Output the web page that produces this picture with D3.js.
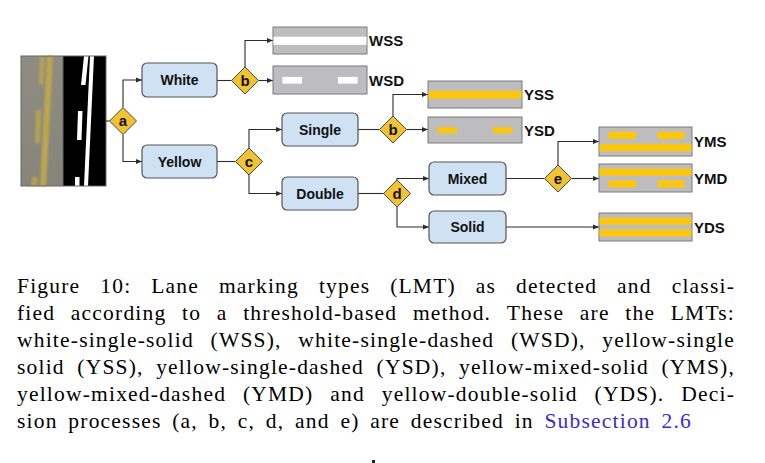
<!DOCTYPE html>
<html>
<head>
<meta charset="utf-8">
<script src="https://cdn.jsdelivr.net/npm/d3@7"></script>
<style>
  body { margin: 0; background: #fff; }
  svg { display: block; }
</style>
</head>
<body>
<script>
// ---- diagram content ----
var colourNodes = ['White', 'Yellow'];
var lineNodes = ['Single', 'Double'];
var doubleNodes = ['Mixed', 'Solid'];
var decisionKeys = ['a', 'b', 'c', 'b', 'd', 'e'];
var lmtCodes = ['WSS', 'WSD', 'YSS', 'YSD', 'YMS', 'YMD', 'YDS'];
var lmtPaint = ['white', 'white', 'yellow', 'yellow', 'yellow', 'yellow', 'yellow'];
// marking rows of each icon, top to bottom
var lmtRows = [['solid'], ['dashed'], ['solid'], ['dashed'], ['dashed', 'solid'], ['solid', 'dashed'], ['solid', 'solid']];

var captionLines = [
  'Figure 10:  Lane marking types (LMT) as detected and classi-',
  'fied according to a threshold-based method.  These are the LMTs:',
  'white-single-solid (WSS), white-single-dashed (WSD), yellow-single',
  'solid (YSS), yellow-single-dashed (YSD), yellow-mixed-solid (YMS),',
  'yellow-mixed-dashed (YMD) and yellow-double-solid (YDS). Deci-',
  'sion processes (a, b, c, d, and e) are described in Subsection 2.6'
];
var linkWords = ['Subsection', '2.6'];

// ---- layout (pixels) ----
var W = 765, H = 463;
var boxPos = {
  White: [142, 63, 75, 34], Yellow: [142, 145, 75, 33],
  Single: [282, 113, 76, 33], Double: [282, 177, 76, 33],
  Mixed: [429, 162, 77, 33], Solid: [429, 211, 77, 32]
};
var diamondPos = [[123, 121], [245, 80.5], [249, 161.5], [393, 129.5], [397, 193.5], [558, 178.5]];
var iconPos = [[273, 27, 94, 27], [273, 66, 94, 28], [428, 81, 94, 27], [428, 117, 94, 26],
               [599, 127, 93, 29], [599, 164, 93, 28], [599, 213, 93, 28]];
var dh = 13.5;

var blue = '#cfe2f3', gold = '#f1c232', line = '#2b2b2b';
var paint = { white: '#ffffff', yellow: '#fbc60f' };

var svg = d3.select('body').append('svg').attr('width', W).attr('height', H);
var defs = svg.append('defs');

defs.append('marker')
  .attr('id', 'arr').attr('viewBox', '0 0 10 10').attr('refX', 10).attr('refY', 5)
  .attr('markerWidth', 6).attr('markerHeight', 6).attr('markerUnits', 'userSpaceOnUse')
  .attr('orient', 'auto')
  .append('path').attr('d', 'M0,1 L10,5 L0,9 z').attr('fill', line);
defs.append('filter').attr('id', 'soft').append('feGaussianBlur').attr('stdDeviation', 0.9);

// ---- photo (left: camera crop, right: thresholded) ----
var photo = svg.append('g');
var grad = defs.append('linearGradient').attr('id', 'road')
  .attr('x1', 0).attr('x2', 0).attr('y1', 0).attr('y2', 1);
grad.append('stop').attr('offset', 0).attr('stop-color', '#8f8d82');
grad.append('stop').attr('offset', 1).attr('stop-color', '#86857a');
photo.append('rect').attr('x', 21).attr('y', 56).attr('width', 42).attr('height', 130).attr('fill', 'url(#road)');
photo.append('rect').attr('x', 63).attr('y', 56).attr('width', 43).attr('height', 130).attr('fill', '#000');

// stripes as [x top, x bottom, y top, y bottom, width]
var camStripes = [[47, 40, 56, 186, 6], [40, 39, 57, 84, 4.5], [36, 35, 110, 143, 5], [32, 31, 177, 186, 6]];
var binStripes = [[90, 84, 56, 186, 4], [84, 81, 56, 85, 4.5], [78, 77, 111, 140, 4.5], [75, 75, 177, 186, 4.5]];
function stripe(g, d, fill, op, filt) {
  g.append('polygon')
    .attr('points', [[d[0], d[2]], [d[0] + d[4], d[2]], [d[1] + d[4], d[3]], [d[1], d[3]]].join(' '))
    .attr('fill', fill).attr('opacity', op).attr('filter', filt);
}
var cam = photo.append('g');
camStripes.forEach(function(d, i) { stripe(cam, d, '#c0a84c', i === 0 ? 0.95 : 0.8, 'url(#soft)'); });
binStripes.forEach(function(d) { stripe(photo, d, '#fff', 1, null); });
photo.append('rect').attr('x', 21).attr('y', 56).attr('width', 85).attr('height', 130)
  .attr('fill', 'none').attr('stroke', '#666').attr('stroke-width', 1);
photo.append('line').attr('x1', 63).attr('x2', 63).attr('y1', 56).attr('y2', 186)
  .attr('stroke', '#666').attr('stroke-width', 1);

// ---- connectors ----
var links = [
  ['M106,121 H109.5', false],
  ['M123,107.5 V80 H142', true],
  ['M123,134.5 V161.5 H142', true],
  ['M217,80.5 H231.5', false],
  ['M245,67 V40.5 H273', true],
  ['M258.5,80.5 H273', true],
  ['M217,161.5 H235.5', false],
  ['M249,148 V129.5 H282', true],
  ['M249,175 V193.5 H282', true],
  ['M358,129.5 H379.5', false],
  ['M393,116 V94.5 H428', true],
  ['M406.5,129.5 H428', true],
  ['M358,193.5 H383.5', false],
  ['M397,180 V178.5 H429', true],
  ['M397,207 V227 H429', true],
  ['M506,178.5 H544.5', false],
  ['M558,165 V141.5 H599', true],
  ['M571.5,178.5 H599', true],
  ['M506,227 H599', true]
];
svg.append('g').selectAll('path').data(links).enter().append('path')
  .attr('d', function(d) { return d[0]; })
  .attr('fill', 'none').attr('stroke', line).attr('stroke-width', 1.1)
  .attr('marker-end', function(d) { return d[1] ? 'url(#arr)' : null; });

// ---- rounded boxes ----
var boxNames = colourNodes.concat(lineNodes, doubleNodes);
var boxes = svg.append('g').selectAll('g').data(boxNames).enter().append('g');
boxes.append('rect')
  .attr('x', function(d) { return boxPos[d][0]; })
  .attr('y', function(d) { return boxPos[d][1]; })
  .attr('width', function(d) { return boxPos[d][2]; })
  .attr('height', function(d) { return boxPos[d][3]; })
  .attr('rx', 5).attr('fill', blue).attr('stroke', '#555').attr('stroke-width', 1.2);
boxes.append('text')
  .attr('x', function(d) { return boxPos[d][0] + boxPos[d][2] / 2; })
  .attr('y', function(d) { return boxPos[d][1] + boxPos[d][3] / 2 + 5; })
  .attr('text-anchor', 'middle')
  .style('font', 'bold 14px "Liberation Sans", Arial, sans-serif').attr('fill', '#111')
  .text(function(d) { return d; });

// ---- decision diamonds ----
var dia = svg.append('g').selectAll('g').data(decisionKeys).enter().append('g')
  .attr('transform', function(d, i) { return 'translate(' + diamondPos[i] + ')'; });
dia.append('polygon')
  .attr('points', [[0, -dh], [dh, 0], [0, dh], [-dh, 0]].join(' '))
  .attr('fill', gold).attr('stroke', '#4a4a4a').attr('stroke-width', 1);
dia.append('text').attr('y', 5).attr('text-anchor', 'middle')
  .style('font', 'bold 15px "Liberation Sans", Arial, sans-serif').attr('fill', '#111')
  .text(function(d) { return d; });

// ---- LMT icons ----
var icons = svg.append('g').selectAll('g').data(lmtCodes).enter().append('g');
icons.each(function(code, i) {
  var p = iconPos[i], g = d3.select(this);
  var sx = d3.scaleLinear().domain([0, 1]).range([p[0], p[0] + p[2]]);
  var sy = d3.scaleLinear().domain([0, 1]).range([p[1], p[1] + p[3]]);
  g.append('rect').attr('x', p[0]).attr('y', p[1]).attr('width', p[2]).attr('height', p[3])
    .attr('fill', '#bdbdbf').attr('stroke', '#7a7a7a').attr('stroke-width', 1);
  var rows = lmtRows[i], col = paint[lmtPaint[i]];
  rows.forEach(function(kind, r) {
    var y0, y1;
    if (rows.length === 1) { y0 = kind === 'solid' ? 0.36 : 0.39; y1 = kind === 'solid' ? 0.66 : 0.63; }
    else { y0 = r === 0 ? 0.16 : 0.58; y1 = r === 0 ? 0.42 : 0.84; }
    var spans = kind === 'solid' ? [[0, 1]]
      : rows.length === 1 ? [[0.1, 0.31], [0.69, 0.9]] : [[0.1, 0.4], [0.63, 0.92]];
    spans.forEach(function(s) {
      g.append('rect').attr('x', sx(s[0]) + (kind === 'solid' ? 0.5 : 0)).attr('y', sy(y0))
        .attr('width', sx(s[1]) - sx(s[0]) - (kind === 'solid' ? 1 : 0)).attr('height', sy(y1) - sy(y0))
        .attr('fill', col);
    });
  });
  g.append('text').attr('x', p[0] + p[2] + 2).attr('y', p[1] + p[3] / 2 + 5.5)
    .style('font', 'bold 15px "Liberation Sans", Arial, sans-serif').attr('fill', '#111')
    .text(code);
});

// ---- caption, justified ----
var capLeft = 17, capRight = 735, lastRight = 692, base0 = 293, lead = 27;
var cap = svg.append('g')
  .style('font-family', '"Liberation Serif", "Times New Roman", serif')
  .style('font-size', '21.5px').style('letter-spacing', '1.2px');
captionLines.forEach(function(ln, li) {
  var words = ln.split(/\s+/);
  var y = base0 + li * lead;
  var nodes = words.map(function(w) {
    return cap.append('text').attr('y', y).text(w)
      .attr('fill', linkWords.indexOf(w) >= 0 && li === captionLines.length - 1 ? '#3a2bd2' : '#000');
  });
  var widths = nodes.map(function(n) { return n.node().getComputedTextLength(); });
  var total = d3.sum(widths);
  var right = li === captionLines.length - 1 ? lastRight : capRight;
  var gap = (right - capLeft - total) / (words.length - 1);
  var x = capLeft;
  nodes.forEach(function(n, k) { n.attr('x', x); x += widths[k] + gap; });
});

svg.append('rect').attr('x', 372).attr('y', 460).attr('width', 3).attr('height', 3).attr('fill', '#222');
</script>
</body>
</html>
